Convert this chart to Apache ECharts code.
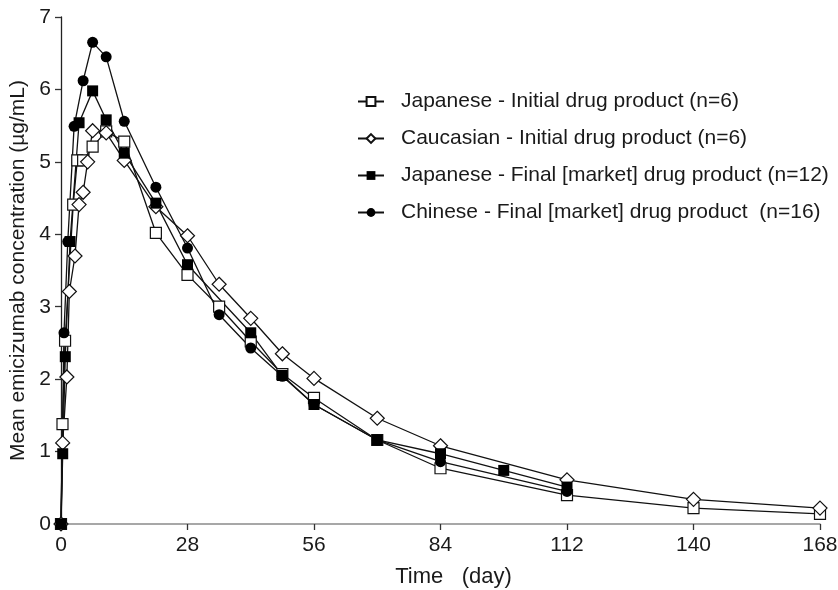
<!DOCTYPE html>
<html>
<head>
<meta charset="utf-8">
<script src="https://cdn.jsdelivr.net/npm/echarts@6/dist/echarts.min.js"></script>
<style>
html,body{margin:0;padding:0;background:#fff;}
#chart{width:838px;height:590px;}
</style>
</head>
<body>
<div id="chart"></div>
<script>
// Series names
var seriesNames = [
  'Japanese - Initial drug product (n=6)',
  'Caucasian - Initial drug product (n=6)',
  'Japanese - Final [market] drug product (n=12)',
  'Chinese - Final [market] drug product  (n=16)'
];

// Japanese - Initial (open squares)
var jpInitDays = [0, 0.33, 0.9, 2.7, 3.6, 4.9, 7, 10, 14, 21, 28, 35, 42, 49, 56, 70, 84, 112, 140, 168];
var jpInitVals = [0, 1.38, 2.53, 4.41, 5.02, 5.02, 5.21, 5.42, 5.28, 4.02, 3.44, 3.0, 2.52, 2.07, 1.74, 1.16, 0.77, 0.40, 0.22, 0.14];

// Caucasian - Initial (open diamonds)
var caInitDays = [0, 0.37, 1.3, 1.85, 3.1, 4, 4.9, 5.9, 7, 10, 14, 21, 28, 35, 42, 49, 56, 70, 84, 112, 140, 168];
var caInitVals = [0, 1.12, 2.03, 3.21, 3.70, 4.41, 4.58, 5.0, 5.43, 5.40, 5.02, 4.38, 3.98, 3.31, 2.84, 2.35, 2.01, 1.46, 1.08, 0.61, 0.34, 0.22];

// Japanese - Final (filled squares)
var jpFinalDays = [0, 0.38, 0.95, 2, 4, 7, 10, 14, 21, 28, 42, 49, 56, 70, 84, 98, 112];
var jpFinalVals = [0, 0.97, 2.31, 3.9, 5.54, 5.98, 5.58, 5.12, 4.43, 3.58, 2.64, 2.05, 1.65, 1.16, 0.97, 0.74, 0.51];

// Chinese - Final (filled circles)
var cnFinalDays = [0, 0.66, 1.5, 2.9, 4.9, 7, 10, 14, 21, 28, 35, 42, 49, 56, 70, 84, 112];
var cnFinalVals = [0, 2.64, 3.9, 5.49, 6.12, 6.65, 6.45, 5.56, 4.65, 3.81, 2.89, 2.43, 2.04, 1.65, 1.16, 0.86, 0.45];

// Axis ticks
var xTicks = [0, 28, 56, 84, 112, 140, 168];
var yTicks = [0, 1, 2, 3, 4, 5, 6, 7];

function pairs(xs, ys) {
  return xs.map(function (x, i) { return [x, ys[i]]; });
}

var FONT = '"Liberation Sans", Arial, sans-serif';
var TXT = '#1a1a1a';

function mkSeries(name, days, vals, symbol, size, filled) {
  return {
    name: name,
    type: 'line',
    data: pairs(days, vals),
    symbol: symbol,
    symbolSize: size,
    showSymbol: true,
    clip: false,
    animation: false,
    lineStyle: { color: '#111', width: 1.3 },
    itemStyle: filled
      ? { color: '#000', borderColor: '#000', borderWidth: 0 }
      : { color: '#fff', borderColor: '#111', borderWidth: 1.2 },
    emphasis: { disabled: true }
  };
}

var chart = echarts.init(document.getElementById('chart'), null, { renderer: 'canvas' });
chart.setOption({
  backgroundColor: '#fff',
  animation: false,
  textStyle: { fontFamily: FONT },
  grid: { left: 61, right: 18, top: 17, bottom: 66, containLabel: false, outerBoundsMode: 'none' },
  legend: {
    orient: 'vertical',
    left: 357,
    top: 91,
    padding: 0,
    itemWidth: 26,
    itemHeight: 11,
    itemGap: 16,
    data: seriesNames,
    textStyle: { fontFamily: FONT, fontSize: 21, color: TXT, padding: [0, 0, 0, 12] },
    selectedMode: false
  },
  xAxis: {
    type: 'value',
    min: 0,
    max: 168,
    interval: 28,
    name: 'Time   (day)',
    nameLocation: 'middle',
    nameGap: 42,
    nameTextStyle: { fontFamily: FONT, fontSize: 22, color: TXT, padding: [0, 0, 0, 26] },
    axisLine: { show: true, lineStyle: { color: '#8a8a8a', width: 1.5 } },
    axisTick: { show: true, length: 6, lineStyle: { color: '#333', width: 1.3 } },
    axisLabel: { fontFamily: FONT, fontSize: 21, color: TXT, margin: 11,
      customValues: xTicks },
    splitLine: { show: false }
  },
  yAxis: {
    type: 'value',
    min: 0,
    max: 7,
    interval: 1,
    name: 'Mean emicizumab concentration (\u00b5g/mL)',
    nameLocation: 'middle',
    nameGap: 31,
    nameTextStyle: { fontFamily: FONT, fontSize: 21, color: TXT },
    axisLine: { show: true, lineStyle: { color: '#222', width: 1.3 } },
    axisTick: { show: true, length: 6, lineStyle: { color: '#333', width: 1.3 } },
    axisLabel: { fontFamily: FONT, fontSize: 21, color: TXT, margin: 10 },
    splitLine: { show: false }
  },
  series: [
    mkSeries(seriesNames[0], jpInitDays, jpInitVals, 'rect', 11, false),
    mkSeries(seriesNames[1], caInitDays, caInitVals, 'diamond', 14, false),
    mkSeries(seriesNames[2], jpFinalDays, jpFinalVals, 'rect', 11, true),
    mkSeries(seriesNames[3], cnFinalDays, cnFinalVals, 'circle', 11, true)
  ]
});
</script>
</body>
</html>
